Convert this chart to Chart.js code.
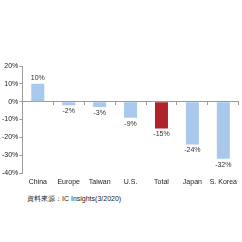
<!DOCTYPE html>
<html>
<head>
<meta charset="utf-8">
<script src="https://cdn.jsdelivr.net/npm/chart.js@4/dist/chart.umd.min.js"></script>
<style>
    html, body { margin: 0; padding: 0; background: #ffffff; }
    #wrap { position: relative; width: 242px; height: 242px; }
    #source {
        position: absolute;
        left: 27px;
        top: 194px;
        font-family: "Liberation Sans", Arial, sans-serif;
        font-size: 7px;
        color: #222;
        white-space: nowrap;
    }
</style>
</head>
<body>
<div id="wrap">
    <canvas id="growthChart" width="242" height="190"></canvas>
    <div id="source">資料來源：IC Insights(3/2020)</div>
</div>
<script>

// ======================================
// Data
// ======================================

const regions = ["China", "Europe", "Taiwan", "U.S.", "Total", "Japan", "S. Korea"];

const growth = [10, -2, -3, -9, -15, -24, -32];

const yTicks = [20, 10, 0, -10, -20, -30, -40];

const barColors = regions.map(r => r === "Total" ? "#b1232b" : "#a8c8ec");

// ======================================
// Value labels above / below each bar
// ======================================

const valueLabels = {

    id: "valueLabels",

    afterDatasetsDraw(chart) {

        const ctx = chart.ctx;
        const meta = chart.getDatasetMeta(0);

        ctx.save();
        ctx.font = "7px 'Liberation Sans', Arial, sans-serif";
        ctx.fillStyle = "#333333";
        ctx.textAlign = "center";
        ctx.textBaseline = "middle";

        meta.data.forEach((bar, i) => {
            const v = growth[i];
            const y = v >= 0 ? bar.y - 6 : bar.y + 6;
            ctx.fillText(v + "%", bar.x, y);
        });

        ctx.restore();
    }
};

// ======================================
// Chart
// ======================================

const ctx = document.getElementById("growthChart").getContext("2d");

new Chart(ctx, {

    type: "bar",

    data: {
        labels: regions,
        datasets: [{
            data: growth,
            backgroundColor: barColors,
            borderWidth: 0,
            barPercentage: 0.42,
            categoryPercentage: 1
        }]
    },

    options: {

        responsive: false,
        animation: false,
        devicePixelRatio: 1,

        layout: {
            padding: { top: 66, left: 1, right: 1, bottom: 0 }
        },

        plugins: {
            legend: { display: false },
            tooltip: { enabled: false }
        },

        scales: {

            x: {
                type: "category",
                position: "bottom",
                border: { display: false },
                grid: { display: false, drawTicks: false, tickLength: 0 },
                afterFit(scale) {
                    scale.height = 17;
                },
                ticks: {
                    color: "#222",
                    font: { family: "'Liberation Sans', Arial, sans-serif", size: 7 },
                    maxRotation: 0,
                    autoSkip: false,
                    padding: 5
                }
            },

            x2: {
                type: "category",
                position: { y: 0 },
                border: { display: true, color: "#9a9a9a", width: 1 },
                grid: {
                    offset: true,
                    drawOnChartArea: false,
                    tickLength: 3,
                    color: "#9a9a9a"
                },
                afterFit(scale) {
                    scale.height = 0;
                },
                ticks: { display: false }
            },

            y: {
                min: -40,
                max: 20,
                afterBuildTicks(scale) {
                    scale.ticks = yTicks.map(v => ({ value: v }));
                },
                border: { display: true, color: "#9a9a9a", width: 1 },
                grid: {
                    drawOnChartArea: false,
                    tickLength: 3,
                    color: "#9a9a9a"
                },
                ticks: {
                    color: "#222",
                    font: { family: "'Liberation Sans', Arial, sans-serif", size: 7 },
                    padding: 1,
                    callback: v => v + "%"
                }
            }
        }
    },

    plugins: [valueLabels]

});

</script>
</body>
</html>
